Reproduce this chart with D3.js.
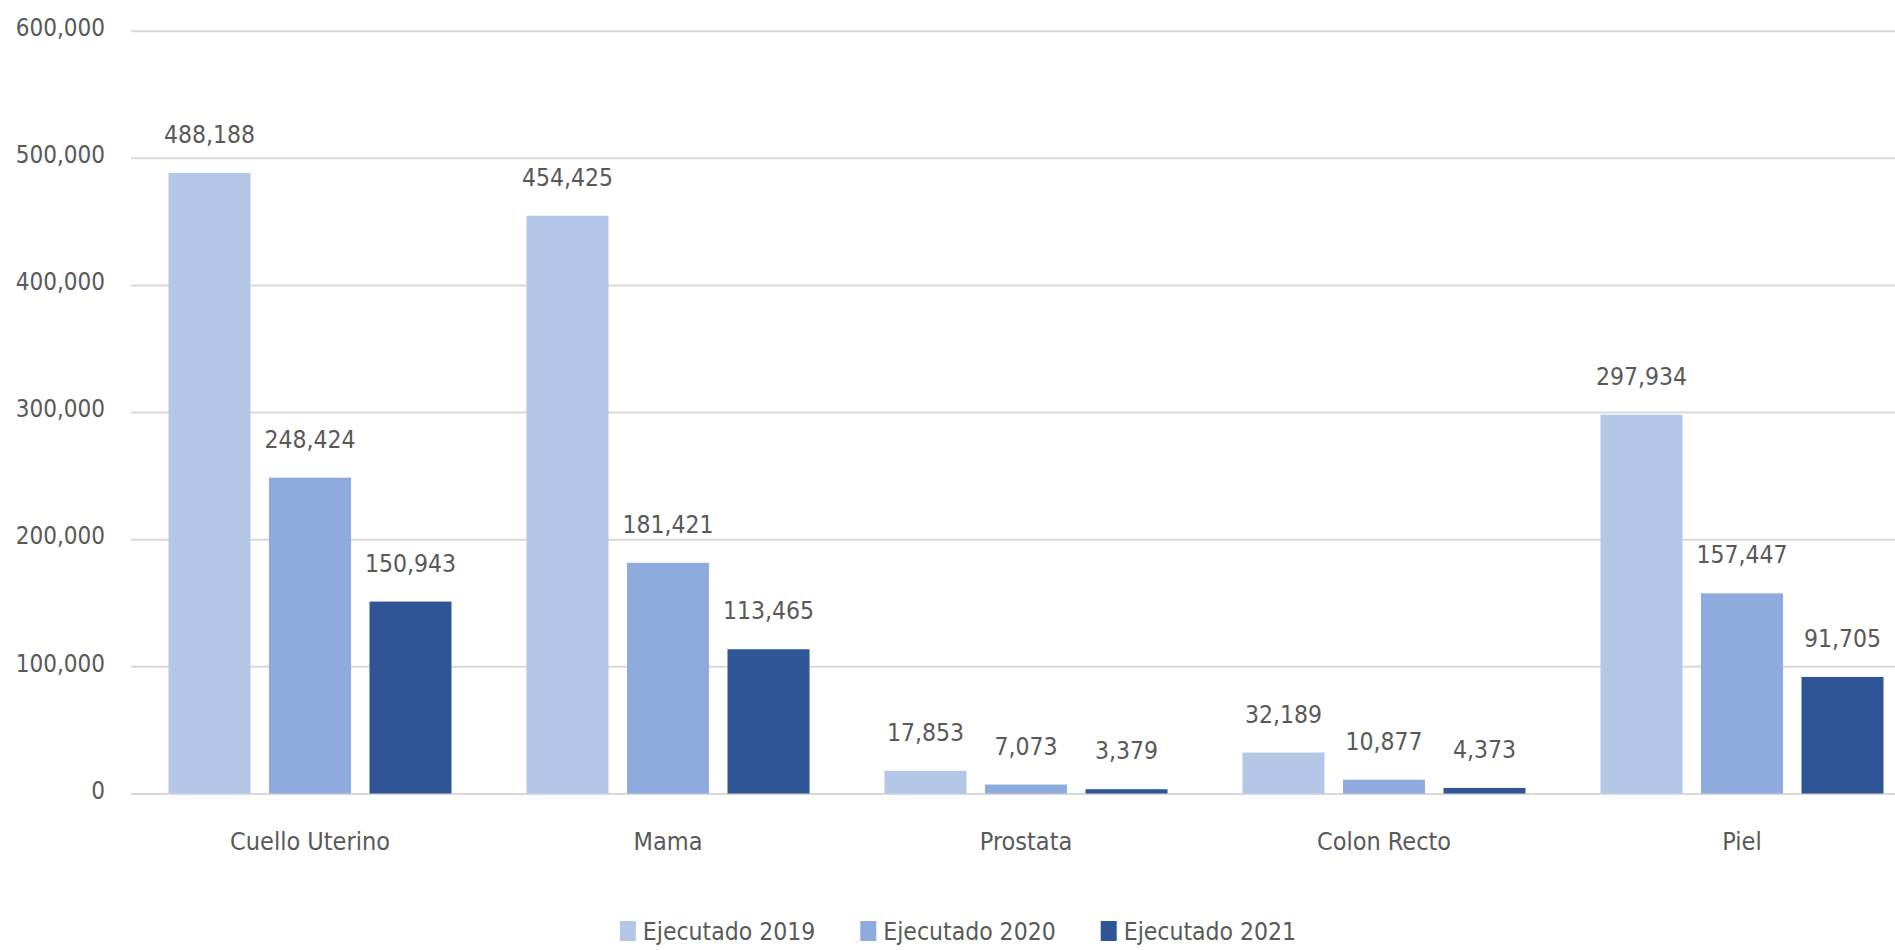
<!DOCTYPE html>
<html>
<head>
<meta charset="utf-8">
<script src="https://cdn.jsdelivr.net/npm/d3@7"></script>
<style>
  body { margin: 0; background: #ffffff; }
  svg { display: block; }
  text { font-family: "DejaVu Sans Condensed", "Liberation Sans Narrow", "Roboto", sans-serif; fill: #595959; }
</style>
</head>
<body>
<svg></svg>
<script>
const categories = [ 'Cuello Uterino', 'Mama', 'Prostata', 'Colon Recto', 'Piel' ];
const seriesNames = [ 'Ejecutado 2019', 'Ejecutado 2020', 'Ejecutado 2021' ];
const values2019 = [ 488188, 454425, 17853, 32189, 297934 ];
const values2020 = [ 248424, 181421, 7073, 10877, 157447 ];
const values2021 = [ 150943, 113465, 3379, 4373, 91705 ];
const yTicks = [ 0, 100000, 200000, 300000, 400000, 500000, 600000 ];
const colors = [ '#b4c7e7', '#8faadc', '#2f5597' ];

const width = 1895;
const height = 950;

// plot area runs a bit past the right edge, like the cropped original
const plotLeft = 131;
const plotRight = 1921;
const plotTop = 30.7;
const plotBottom = 793.5;

let allSeries = [ values2019, values2020, values2021 ];

let rows = categories.map( function( c, i ) {
  return {
    category : c,
    values : allSeries.map( function( s, j ) { return { key : seriesNames[ j ], value : s[ i ], idx : j } } )
  };
} );

let svg = d3.select( 'svg' )
            .attr( 'width', width )
            .attr( 'height', height );

let x0 = d3.scaleBand()
           .domain( categories )
           .range( [ plotLeft, plotRight ] )
           .padding( 0 );

let x1 = d3.scaleBand()
           .domain( seriesNames )
           .range( [ 0, x0.bandwidth() ] )
           .paddingInner( 0.184 )
           .paddingOuter( 0.373 );

let y = d3.scaleLinear()
          .domain( [ 0, 600000 ] )
          .range( [ plotBottom, plotTop ] );

let fmt = d3.format( ',' );

// gridlines + y labels
let yAxis = d3.axisLeft( y )
              .tickValues( yTicks )
              .tickFormat( fmt )
              .tickSize( -( plotRight - plotLeft ) )
              .tickPadding( 26 );

let yg = svg.append( 'g' )
            .attr( 'transform', 'translate(' + plotLeft + ',0)' )
            .call( yAxis );
yg.select( '.domain' ).remove();
yg.selectAll( '.tick line' )
  .attr( 'stroke', '#d9d9d9' )
  .attr( 'stroke-width', 2 );
yg.selectAll( '.tick text' )
  .attr( 'font-size', 24 )
  .attr( 'dy', '0.36em' )
  .attr( 'y', -4 )
  .style( 'fill', '#595959' );

// category labels
let xAxis = d3.axisBottom( x0 ).tickSize( 0 ).tickPadding( 0 );
let xg = svg.append( 'g' )
            .attr( 'transform', 'translate(0,' + plotBottom + ')' )
            .call( xAxis );
xg.select( '.domain' ).remove();
xg.selectAll( '.tick text' )
  .attr( 'font-size', 25 )
  .attr( 'dy', 0 )
  .attr( 'y', 56 )
  .style( 'fill', '#595959' );

// bars
let groups = svg.selectAll( '.group' )
                .data( rows )
                .enter().append( 'g' )
                .attr( 'class', 'group' )
                .attr( 'transform', function( d ) { return 'translate(' + x0( d.category ) + ',0)' } );

groups.selectAll( 'rect' )
      .data( function( d ) { return d.values } )
      .enter().append( 'rect' )
      .attr( 'x', function( d ) { return x1( d.key ) } )
      .attr( 'y', function( d ) { return y( d.value ) } )
      .attr( 'width', x1.bandwidth() )
      .attr( 'height', function( d ) { return plotBottom - y( d.value ) } )
      .attr( 'fill', function( d ) { return colors[ d.idx ] } );

// value labels
groups.selectAll( '.val' )
      .data( function( d ) { return d.values } )
      .enter().append( 'text' )
      .attr( 'class', 'val' )
      .attr( 'x', function( d ) { return x1( d.key ) + x1.bandwidth() / 2 } )
      .attr( 'y', function( d ) { return y( d.value ) - 30 } )
      .attr( 'text-anchor', 'middle' )
      .attr( 'font-size', 24.5 )
      .text( function( d ) { return fmt( d.value ) } );

// legend, centred under the chart
let legend = svg.append( 'g' );
let items = legend.selectAll( 'g' )
                  .data( seriesNames )
                  .enter().append( 'g' );
items.append( 'rect' )
     .attr( 'y', 921 )
     .attr( 'width', 16 )
     .attr( 'height', 20 )
     .attr( 'fill', function( d, i ) { return colors[ i ] } );
items.append( 'text' )
     .attr( 'x', 23 )
     .attr( 'y', 940 )
     .attr( 'font-size', 24.5 )
     .text( function( d ) { return d } );

let offset = 0;
let gap = 45;
items.each( function() {
  let g = d3.select( this );
  g.attr( 'transform', 'translate(' + offset + ',0)' );
  offset += 23 + g.select( 'text' ).node().getComputedTextLength() + gap;
} );
offset -= gap;
legend.attr( 'transform', 'translate(' + ( 958 - offset / 2 ) + ',0)' );
</script>
</body>
</html>
